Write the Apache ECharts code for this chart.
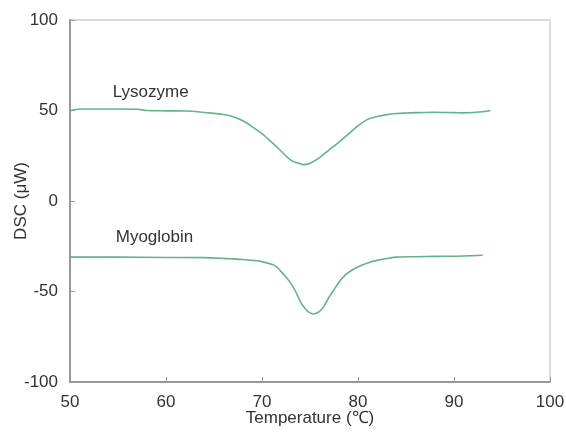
<!DOCTYPE html>
<html style="height: 100%">
   <head>
       <meta charset="utf-8">
   </head>
   <body style="height: 100%; margin: 0; background: #fff">
       <div id="container" style="width: 566px; height: 432px"></div>
       <script type="text/javascript" src="https://cdn.jsdelivr.net/npm/echarts@6/dist/echarts.min.js"></script>
       <script type="text/javascript">
// temperature (C) and DSC (uW)
var lysoTemp = [50, 51, 53, 55, 57, 58, 60, 62, 63.5, 65, 66, 67, 68, 69, 70, 71, 72, 73, 74, 74.4, 75, 76, 77, 78, 79, 80, 81, 82, 83, 84, 85, 86, 88, 90, 91, 92, 93, 93.8];
var lysoDsc  = [49.8, 50.8, 50.8, 50.8, 50.7, 50.0, 49.8, 49.7, 49.2, 48.4, 47.8, 46.6, 44.3, 41.0, 37.2, 32.5, 27.5, 22.6, 20.5, 20.1, 20.9, 24.0, 28.3, 32.4, 37.0, 41.5, 45.1, 46.7, 47.7, 48.3, 48.6, 48.8, 49.0, 48.8, 48.7, 48.9, 49.3, 50.0];

var myoTemp = [50, 55, 60, 64, 66, 67, 68, 69, 70, 71, 71.5, 72, 72.5, 73, 73.5, 74, 74.5, 75, 75.4, 76, 76.5, 77, 77.5, 78, 78.5, 79, 80, 81, 82, 83, 84, 86, 88, 90, 92, 93];
var myoDsc  = [-31.0, -31.0, -31.2, -31.3, -31.7, -32.0, -32.3, -32.8, -33.5, -35.0, -36.3, -39.0, -42.0, -45.5, -50.0, -55.6, -59.5, -61.8, -62.4, -61.0, -57.8, -53.0, -49.0, -45.0, -41.8, -39.5, -36.3, -34.2, -32.8, -31.8, -31.0, -30.8, -30.6, -30.5, -30.2, -30.0];

var seriesNames = ['Lysozyme', 'Myoglobin'];
var labelAt = [[58.4, 60.2], [58.8, -19.9]];

function pairs(xs, ys) {
    return xs.map(function (x, i) { return [x, ys[i]]; });
}

var textColor = '#333';
var axisColor = '#999';
var lineColor = '#62b38b';
var font = 'Liberation Sans';

var dom = document.getElementById("container");
var myChart = echarts.init(dom);
var option = {
    animation: false,
    textStyle: { fontFamily: font },
    grid: {
        left: 70, right: 16, top: 20, bottom: 50,
        containLabel: false,
        outerBoundsMode: 'none',
        show: true,
        borderColor: '#d0d0d0',
        borderWidth: 1.5
    },
    xAxis: {
        type: 'value',
        min: 50, max: 100, interval: 10,
        name: 'Temperature (\u2103)',
        nameLocation: 'middle',
        nameGap: 28,
        nameMoveOverlap: false,
        nameTextStyle: { color: textColor, fontSize: 17, fontFamily: font },
        axisLine: { onZero: false, lineStyle: { color: axisColor, width: 2 } },
        axisTick: { inside: true, length: 5, lineStyle: { color: axisColor } },
        axisLabel: { color: textColor, fontSize: 17, margin: 12 },
        splitLine: { show: false }
    },
    yAxis: {
        type: 'value',
        min: -100, max: 100, interval: 50,
        name: 'DSC (\u03bcW)',
        nameLocation: 'middle',
        nameGap: 40,
        nameMoveOverlap: false,
        nameTextStyle: { color: textColor, fontSize: 17, fontFamily: font },
        axisLine: { show: true, onZero: false, lineStyle: { color: axisColor, width: 2 } },
        axisTick: { show: true, inside: true, length: 5, lineStyle: { color: axisColor } },
        axisLabel: { color: textColor, fontSize: 17, margin: 12 },
        splitLine: { show: false }
    },
    series: [lysoTemp, myoTemp].map(function (xs, k) {
        var ys = k === 0 ? lysoDsc : myoDsc;
        return {
            name: seriesNames[k],
            type: 'line',
            data: pairs(xs, ys),
            smooth: 0.3,
            symbol: 'none',
            lineStyle: { color: lineColor, width: 1.6 },
            markPoint: {
                symbol: 'circle',
                symbolSize: 1,
                itemStyle: { color: 'rgba(0,0,0,0)' },
                label: {
                    show: true,
                    position: 'inside',
                    formatter: seriesNames[k],
                    color: textColor,
                    fontSize: 17,
                    fontFamily: font
                },
                data: [{ coord: labelAt[k] }]
            }
        };
    })
};
myChart.setOption(option, true);
       </script>
   </body>
</html>
